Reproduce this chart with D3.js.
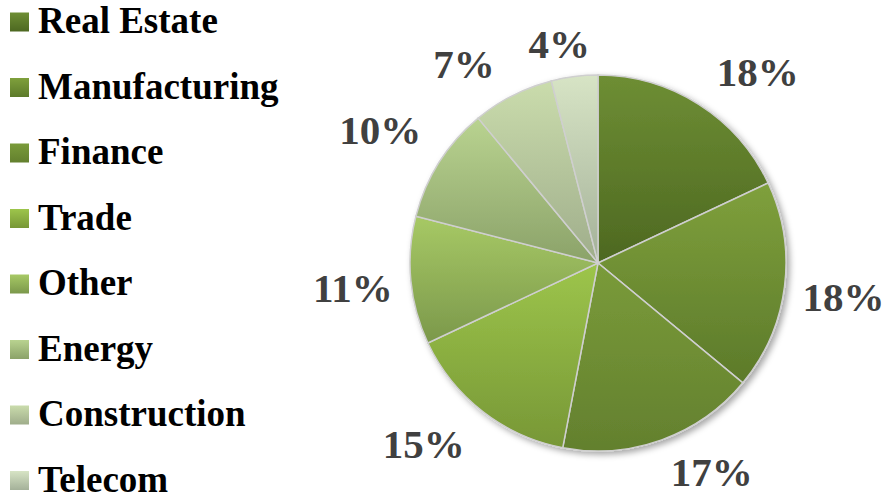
<!DOCTYPE html>
<html>
<head>
<meta charset="utf-8">
<script src="https://cdn.jsdelivr.net/npm/d3@7"></script>
<style>
  html, body { margin: 0; padding: 0; background: #fff; }
  svg { display: block; }
  text { font-family: 'Liberation Serif', 'Times New Roman', Times, serif; font-weight: bold; }
</style>
</head>
<body>
<div id="chart"></div>
<script>
// sector shares, clockwise from 12 o'clock
const sectors = ['Real Estate', 'Manufacturing', 'Finance', 'Trade', 'Other', 'Energy', 'Construction', 'Telecom'];
const shares = [18, 18, 17, 15, 11, 10, 7, 4];
const colorTop = ['#6e8e34', '#7fa03c', '#7a9b3a', '#9dc54b', '#a7c965', '#b9d390', '#cadcac', '#d7e4c5'];
const colorBottom = ['#4d6821', '#5c7a2a', '#63802e', '#779736', '#7b984b', '#8ba269', '#9fad8b', '#a4b199'];

const width = 885;
const height = 493;
const cx = 598;
const cy = 263;
const radius = 188;

const svg = d3.select('#chart')
  .append('svg')
  .attr('width', width)
  .attr('height', height);

const defs = svg.append('defs');

sectors.forEach((s, i) => {
  const g = defs.append('linearGradient')
    .attr('id', 'grad' + i)
    .attr('x1', 0).attr('y1', 0)
    .attr('x2', 0).attr('y2', 1);
  g.append('stop').attr('offset', '0%').attr('stop-color', colorTop[i]);
  g.append('stop').attr('offset', '100%').attr('stop-color', colorBottom[i]);
});

const shadow = defs.append('filter')
  .attr('id', 'shadow')
  .attr('x', '-20%').attr('y', '-20%')
  .attr('width', '140%').attr('height', '140%');
shadow.append('feDropShadow')
  .attr('dx', 3).attr('dy', 3)
  .attr('stdDeviation', 3)
  .attr('flood-color', '#000')
  .attr('flood-opacity', 0.35);

// legend
const legend = svg.append('g').attr('transform', 'translate(10, 22)');
const rowStep = 65.5;

const item = legend.selectAll('g')
  .data(sectors)
  .enter()
  .append('g')
  .attr('transform', (d, i) => `translate(0, ${i * rowStep})`);

item.append('rect')
  .attr('x', 0)
  .attr('y', -9.5)
  .attr('width', 19)
  .attr('height', 19)
  .attr('fill', (d, i) => `url(#grad${i})`);

item.append('text')
  .attr('x', 28)
  .attr('y', 11)
  .attr('font-size', 37)
  .attr('fill', '#000')
  .text(d => d);

// pie
const pie = d3.pie().sort(null).value(d => d);
const arcs = pie(shares);

const arc = d3.arc().innerRadius(0).outerRadius(radius);

const pieG = svg.append('g').attr('transform', `translate(${cx}, ${cy})`);

pieG.append('g')
  .attr('filter', 'url(#shadow)')
  .selectAll('path')
  .data(arcs)
  .enter()
  .append('path')
  .attr('d', arc)
  .attr('fill', (d, i) => `url(#grad${i})`)
  .attr('stroke', '#cfcfcf')
  .attr('stroke-width', 1.5);

// percentage labels, outside end: the label box sits next to the
// point on the rim at the slice's mid angle
const gap = 18;
const halfHeight = 14;
const sat = t => Math.max(-1, Math.min(1, t * 2.5));

pieG.append('g')
  .selectAll('text')
  .data(arcs)
  .enter()
  .append('text')
  .attr('text-anchor', 'middle')
  .attr('font-size', 41)
  .attr('fill', '#404040')
  .text(d => d.data + '%')
  .each(function (d) {
    const a = (d.startAngle + d.endAngle) / 2;
    const hw = this.getComputedTextLength() / 2;
    const px = Math.sin(a) * radius;
    const py = -Math.cos(a) * radius;
    const x = px + sat(Math.sin(a)) * (hw + gap);
    const y = py + sat(-Math.cos(a)) * (halfHeight + gap);
    d3.select(this)
      .attr('x', x)
      .attr('y', y + halfHeight);
  });
</script>
</body>
</html>
